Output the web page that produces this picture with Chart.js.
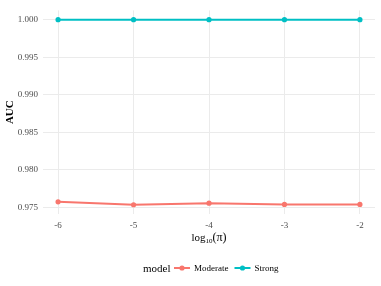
<!DOCTYPE html>
<html>
<head>
<meta charset="utf-8">
<script src="https://cdn.jsdelivr.net/npm/chart.js@4/dist/chart.umd.min.js"></script>
<style>
  html, body { margin: 0; padding: 0; background: #fff; }
  #wrap { width: 381px; height: 286px; }
</style>
</head>
<body>
<div id="wrap"><canvas id="chart" width="381" height="286"></canvas></div>
<script>
const logPi = [-6, -5, -4, -3, -2];
const moderate = [0.97574, 0.97535, 0.97556, 0.97539, 0.9754];
const strong = [1.000, 1.000, 1.000, 1.000, 1.000];
const yTicks = [0.975, 0.980, 0.985, 0.990, 0.995, 1.000];

const colors = { 'Moderate': '#F8766D', 'Strong': '#00BFC4' };
const serif = "'Liberation Serif', 'DejaVu Serif', serif";

// x title with subscript and bottom legend, drawn like ggplot
const decorations = {
    id: 'decorations',
    afterDraw(chart) {
        const ctx = chart.ctx;
        const area = chart.chartArea;
        ctx.save();
        ctx.fillStyle = '#000';
        ctx.textBaseline = 'alphabetic';

        // x axis title: log10(π)
        const cx = (area.left + area.right) / 2;
        const y = 241;
        ctx.font = `11px ${serif}`;
        const w1 = ctx.measureText('log').width;
        ctx.font = `7px ${serif}`;
        const w2 = ctx.measureText('10').width;
        ctx.font = `12px ${serif}`;
        const w3 = ctx.measureText('(π)').width;
        let x = cx - (w1 + w2 + w3) / 2;
        ctx.textAlign = 'left';
        ctx.font = `11px ${serif}`;
        ctx.fillText('log', x, y); x += w1;
        ctx.font = `7px ${serif}`;
        ctx.fillText('10', x, y + 2); x += w2;
        ctx.font = `12px ${serif}`;
        ctx.fillText('(π)', x, y);

        // legend
        const ly = 268;
        ctx.font = `11px ${serif}`;
        ctx.fillText('model', 143, ly + 4);
        let lx = 174;
        chart.data.datasets.forEach(ds => {
            ctx.strokeStyle = ds.borderColor;
            ctx.fillStyle = ds.borderColor;
            ctx.lineWidth = 2;
            ctx.beginPath();
            ctx.moveTo(lx, ly);
            ctx.lineTo(lx + 16, ly);
            ctx.stroke();
            ctx.beginPath();
            ctx.arc(lx + 8, ly, 2.6, 0, Math.PI * 2);
            ctx.fill();
            ctx.fillStyle = '#000';
            ctx.font = `9px ${serif}`;
            ctx.fillText(ds.label, lx + 20, ly + 3);
            lx += 20 + ctx.measureText(ds.label).width + 6;
        });
        ctx.restore();
    }
};

new Chart(document.getElementById('chart'), {
    type: 'line',
    data: {
        labels: logPi,
        datasets: [
            {
                label: 'Moderate',
                data: logPi.map((v, i) => ({ x: v, y: moderate[i] })),
                borderColor: colors['Moderate'],
                backgroundColor: colors['Moderate'],
                borderWidth: 2,
                pointRadius: 2.6,
                pointBorderWidth: 0,
                tension: 0
            },
            {
                label: 'Strong',
                data: logPi.map((v, i) => ({ x: v, y: strong[i] })),
                borderColor: colors['Strong'],
                backgroundColor: colors['Strong'],
                borderWidth: 2,
                pointRadius: 2.6,
                pointBorderWidth: 0,
                tension: 0
            }
        ]
    },
    options: {
        responsive: false,
        animation: false,
        layout: { padding: { top: 5, right: 6, left: 4, bottom: 0 } },
        scales: {
            x: {
                type: 'linear',
                min: -6.2,
                max: -1.8,
                afterBuildTicks: s => { s.ticks = logPi.map(v => ({ value: v })); },
                afterFit: s => { s.height = 72; },
                grid: { color: '#ebebeb', lineWidth: 1, drawTicks: false },
                border: { display: false },
                ticks: {
                    padding: 6,
                    color: '#4d4d4d',
                    font: { family: serif, size: 9 },
                    callback: v => String(v)
                }
            },
            y: {
                min: 0.97412,
                max: 1.00123,
                afterBuildTicks: s => { s.ticks = yTicks.map(v => ({ value: v })); },
                afterFit: s => { s.width = 39; },
                grid: { color: '#ebebeb', lineWidth: 1, drawTicks: false },
                border: { display: false },
                title: {
                    display: true,
                    text: 'AUC',
                    color: '#000',
                    font: { family: serif, size: 11, weight: 'bold' },
                    padding: 0
                },
                ticks: {
                    padding: 5,
                    color: '#4d4d4d',
                    font: { family: serif, size: 9 },
                    callback: v => v.toFixed(3)
                }
            }
        },
        plugins: {
            legend: { display: false },
            tooltip: { enabled: false }
        }
    },
    plugins: [decorations]
});
</script>
</body>
</html>
